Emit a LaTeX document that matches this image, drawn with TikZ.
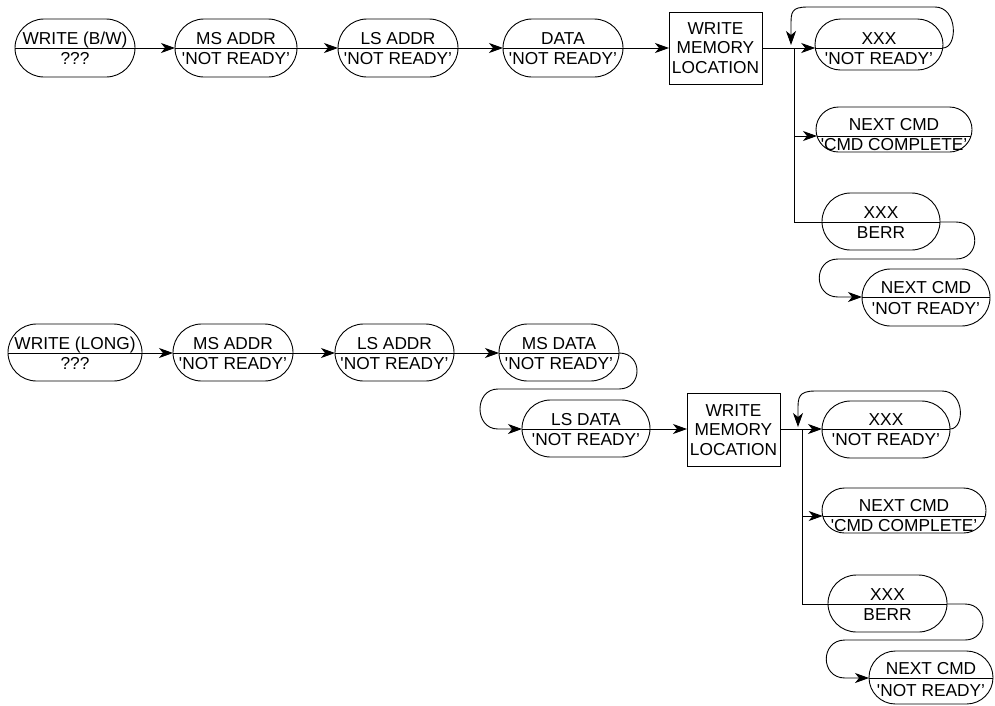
\documentclass[tikz,border=0pt]{standalone}
\usepackage{fontspec}
\setmainfont{Liberation Sans}
\usetikzlibrary{arrows.meta}
\tikzset{
  ln/.style={line width=0.9pt},
  arr/.style={ln, -{Stealth[length=14pt,width=10pt,inset=4pt]}},
  stad/.style={draw, line width=0.9pt, inner sep=0pt, outer sep=0pt},
  txt/.style={inner sep=0pt, font=\fontsize{17.3}{19.5}\selectfont},
  boxst/.style={draw, line width=0.9pt, inner sep=0pt, outer sep=0pt, align=center, font=\fontsize{17.3}{19.3}\selectfont},
}
\newcommand\qNR{\textquotesingle NOT READY\textquoteright}
\newcommand\qCC{\textquotesingle CMD COMPLETE\textquoteright}
\def\stup{3.5}
\def\stlo{16}
% #1 name, #2 x1, #3 x2, #4 ytop, #5 ybot, #6 ydiv, #7 upper, #8 lower
\newcommand\stnode[8]{%
  \pgfmathsetmacro\stcx{(#2+#3)/2}%
  \pgfmathsetmacro\stcy{(#4+#5)/2}%
  \pgfmathsetmacro\stW{#3-#2}%
  \pgfmathsetmacro\stH{#5-#4}%
  \pgfmathsetmacro\stR{\stH/2}%
  \pgfmathsetmacro\stdx{sqrt(max(\stR*\stR-(#6-\stcy)*(#6-\stcy),0))}%
  \node[stad, minimum width=\stW pt, minimum height=\stH pt, rounded corners=\stR pt] (#1) at (\stcx,\stcy) {};
  \coordinate (#1-w) at ({#2+\stR-\stdx},#6);
  \coordinate (#1-e) at ({#3-\stR+\stdx},#6);
  \draw[ln] (#1-w) -- (#1-e);
  \node[txt, anchor=base] (#1-t) at (\stcx,#6-\stup) {#7};
  \node[txt, anchor=base] (#1-b) at (\stcx,#6+\stlo) {#8};
}
\begin{document}
\begin{tikzpicture}[x=1pt,y=-1pt]
\useasboundingbox (0,0) rectangle (995,705);
% ---------- top chain ----------
\stnode{a1}{15}{135}{19}{77}{48}{WRITE (B/W)}{???}
\stnode{a2}{175}{297}{19}{77}{48}{MS ADDR}{\qNR}
\stnode{a3}{338}{458}{19}{77}{48}{LS ADDR}{\qNR}
\stnode{a4}{503}{623}{19}{77}{48}{DATA}{\qNR}
\node[boxst, minimum width=93pt, minimum height=72pt] (b1) at (715.5,48) {WRITE\\MEMORY\\LOCATION};
\stnode{a5}{815}{943}{19}{70}{48}{XXX}{\qNR}
\def\stup{5.5}\def\stlo{14.5}
\stnode{a6}{816}{972}{107}{152}{136}{NEXT CMD}{\qCC}
\def\stup{3.5}\def\stlo{16}
\stnode{a7}{822}{940}{193}{250}{222}{XXX}{BERR}
\def\stlo{17}
\stnode{a8}{862}{990}{269}{326}{297}{NEXT CMD}{\qNR}
\def\stlo{16}

\draw[arr] (a1-e) -- (a2-w);
\draw[arr] (a2-e) -- (a3-w);
\draw[arr] (a3-e) -- (a4-w);
\draw[arr] (a4-e) -- (a4-e -| b1.west);
\coordinate (j1) at (794,48);
\draw[ln] (j1 -| b1.east) -- (j1) -- (j1 |- a7-w) -- (a7-w);
\draw[arr] (j1) -- (a5-w);
\draw[arr] (j1 |- a6-w) -- (a6-w);
\coordinate (t1) at (791,45);
\draw[arr] (a5-e) .. controls (958,48) and (958,7) .. (935,7) -- (808,7)
  .. controls (791,7) and (791,12) .. (791,26) -- (t1);
\draw[arr] (a7-e) -- (956,222) .. controls (981,222) and (981,259) .. (956,259)
  -- (838,259) .. controls (813,259) and (813,297) .. (838,297) -- (a8-w);

% ---------- bottom chain ----------
\stnode{c1}{8}{142}{324}{381}{353}{WRITE (LONG)}{???}
\stnode{c2}{173}{293}{324}{381}{353}{MS ADDR}{\qNR}
\stnode{c3}{335}{454}{324}{381}{353}{LS ADDR}{\qNR}
\stnode{c4}{499}{619}{324}{381}{353}{MS DATA}{\qNR}
\stnode{c5}{522}{650}{400}{457}{429}{LS DATA}{\qNR}
\node[boxst, minimum width=93pt, minimum height=73pt] (d1) at (733.5,430) {WRITE\\MEMORY\\LOCATION};
\stnode{c6}{822}{950}{401}{458}{429}{XXX}{\qNR}
\def\stup{5}\def\stlo{15.5}
\stnode{c7}{822}{986}{488}{533}{516}{NEXT CMD}{\qCC}
\def\stup{3.5}\def\stlo{16}
\stnode{c8}{828}{947}{575}{632}{604}{XXX}{BERR}
\def\stlo{18}
\stnode{c9}{869}{993}{651}{704}{678}{NEXT CMD}{\qNR}

\draw[arr] (c1-e) -- (c2-w);
\draw[arr] (c2-e) -- (c3-w);
\draw[arr] (c3-e) -- (c4-w);
\draw[arr] (c4-e) .. controls (643,353) and (643,389) .. (619,389)
  -- (498,389) .. controls (474,389) and (474,429) .. (498,429) -- (c5-w);
\draw[arr] (c5-e) -- (c5-e -| d1.west);
\coordinate (j2) at (802,429);
\draw[ln] (j2 -| d1.east) -- (j2) -- (j2 |- c8-w) -- (c8-w);
\draw[arr] (j2) -- (c6-w);
\draw[arr] (j2 |- c7-w) -- (c7-w);
\coordinate (t2) at (798,427);
\draw[arr] (c6-e) .. controls (965,429) and (965,391) .. (942,391) -- (815,391)
  .. controls (798,391) and (798,398) .. (798,410) -- (t2);
\draw[arr] (c8-e) -- (965,604) .. controls (989,604) and (989,640) .. (965,640)
  -- (845,640) .. controls (820,640) and (820,678) .. (845,678) -- (c9-w);
\end{tikzpicture}
\end{document}
